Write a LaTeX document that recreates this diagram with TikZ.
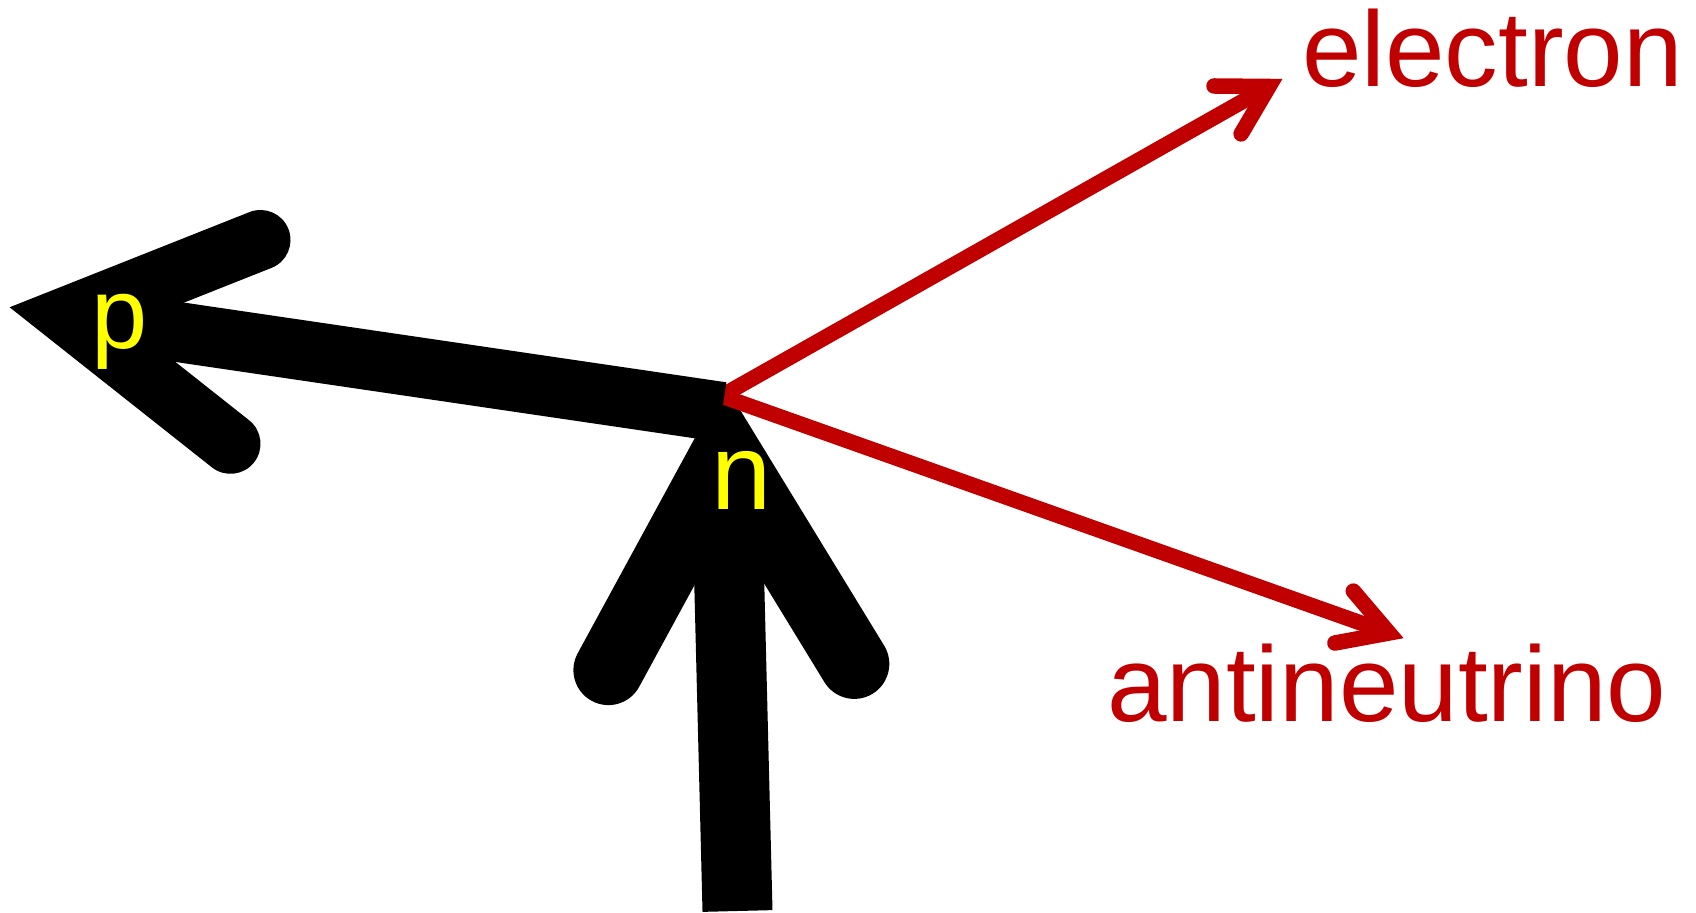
\documentclass[tikz,border=0pt]{standalone}
\usepackage{fontspec}
\setmainfont{Liberation Sans}
\definecolor{partred}{RGB}{192,0,0}
\definecolor{partyellow}{RGB}{255,255,0}
\begin{document}
\begin{tikzpicture}[x=0.5pt,y=-0.5pt,
  shaftline/.style={line width=#1, line cap=butt},
  headline/.style={line width=#1, line join=miter, line cap=round},
  redlbl/.style={font=\fontsize{53.5pt}{64pt}\selectfont, text=partred, inner sep=0pt, anchor=base west},
  yellbl/.style={font=\fontsize{#1}{64pt}\selectfont, text=partyellow, inner sep=0pt, anchor=base west}]
\useasboundingbox (0,0) rectangle (1696,913);
% coordinates
\coordinate (ptail) at (722,412);
\coordinate (ptip) at (69,316);
\coordinate (pbA) at (260.5,240);
\coordinate (pbB) at (230.5,443.8);
\coordinate (ntail) at (737.5,911);
\coordinate (ntip) at (726,454);
\coordinate (nbA) at (608.4,670.1);
\coordinate (nbB) at (854.3,663.9);
\coordinate (O) at (721.5,396);
\coordinate (etip) at (1269,86.5);
\coordinate (ebA) at (1214,86);
\coordinate (ebB) at (1241.1,133.9);
\coordinate (atip) at (1389,633);
\coordinate (abA) at (1353.3,591.1);
\coordinate (abB) at (1334.9,643);
% neutron arrow
\draw[shaftline=35pt] (ntail) -- (ntip);
\draw[headline=35pt] (nbA) -- (ntip) -- (nbB);
% electron and antineutrino
\draw[partred, shaftline=7.75pt] (O) -- (etip);
\draw[partred, headline=7.75pt] (ebA) -- (etip) -- (ebB);
\draw[partred, shaftline=7.75pt] (O) -- (atip);
\draw[partred, headline=7.75pt] (abA) -- (atip) -- (abB);
% proton arrow
\draw[shaftline=30pt] (ptail) -- (ptip);
\draw[headline=30pt] (pbA) -- (ptip) -- (pbB);
% labels
\node[redlbl] (elabel) at (1301.6,86.7) {electron};
\node[redlbl] (alabel) at (1106.8,721.5) {antineutrino};
\node[yellbl=50.5pt] (plabel) at (90.6,348.6) {p};
\node[yellbl=54pt] (nlabel) at (711.2,510) {n};
\end{tikzpicture}
\end{document}
